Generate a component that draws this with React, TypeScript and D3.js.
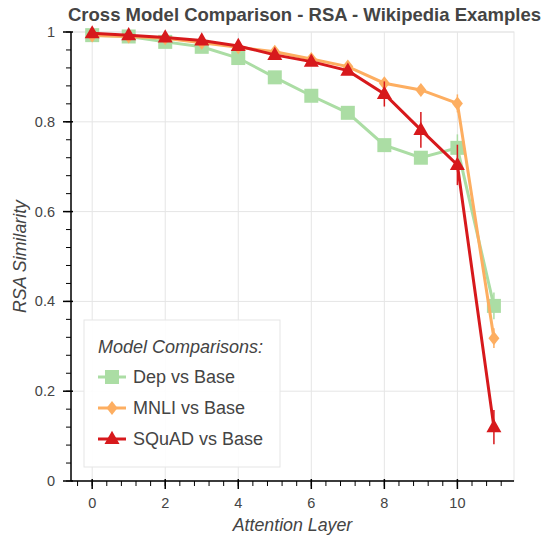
import * as d3 from 'd3';

const layers = [0, 1, 2, 3, 4, 5, 6, 7, 8, 9, 10, 11];
const depVsBase = [0.993, 0.99, 0.978, 0.967, 0.942, 0.899, 0.858, 0.82, 0.748, 0.72, 0.742, 0.39];
const depErr = [0, 0, 0, 0, 0, 0, 0, 0, 0.01, 0.01, 0.03, 0.03];
const mnliVsBase = [0.992, 0.99, 0.986, 0.976, 0.966, 0.956, 0.94, 0.923, 0.886, 0.871, 0.841, 0.318];
const mnliErr = [0, 0, 0, 0, 0, 0, 0, 0, 0.012, 0.01, 0.02, 0.022];
const squadVsBase = [0.997, 0.993, 0.988, 0.981, 0.969, 0.949, 0.934, 0.914, 0.862, 0.782, 0.704, 0.12];
const squadErr = [0, 0, 0, 0, 0, 0, 0, 0, 0.028, 0.04, 0.045, 0.038];
const seriesNames = ['Dep vs Base', 'MNLI vs Base', 'SQuAD vs Base'];
const xTicks = [0, 2, 4, 6, 8, 10];
const yTicks = [0, 0.2, 0.4, 0.6, 0.8, 1];

const FONT = '"Liberation Sans", Arial, Helvetica, sans-serif';
const TEXT = '#444444';

export default function App() {
  const width = 546;
  const height = 537;
  const margin = { top: 32, right: 32, bottom: 56, left: 71 };
  const boundsWidth = width - margin.left - margin.right;
  const boundsHeight = height - margin.top - margin.bottom;

  const xScale = d3.scaleLinear().domain([-0.58, 11.55]).range([0, boundsWidth]);
  const yScale = d3.scaleLinear().domain([0, 1]).range([boundsHeight, 0]);

  const xMinor = d3.range(-0.4, 11.6, 0.4).map((v) => +v.toFixed(2));
  const yMinor = d3.range(0, 1.001, 0.04).map((v) => +v.toFixed(2));

  const tri = (s: number) => {
    const h = s * 0.88;
    return `M0,${-h * 0.62}L${s / 2},${h * 0.38}L${-s / 2},${h * 0.38}Z`;
  };
  const diamond = (w: number, h: number) => `M0,${-h / 2}L${w / 2},0L0,${h / 2}L${-w / 2},0Z`;
  const square = (s: number) => `M${-s / 2},${-s / 2}h${s}v${s}h${-s}Z`;

  const series = [
    { name: seriesNames[0], values: depVsBase, err: depErr, color: '#abdda4', marker: square(14) },
    { name: seriesNames[1], values: mnliVsBase, err: mnliErr, color: '#fdae61', marker: diamond(11, 14) },
    { name: seriesNames[2], values: squadVsBase, err: squadErr, color: '#d7191c', marker: tri(15) },
  ];

  const line = d3
    .line<number>()
    .x((_, i) => xScale(layers[i]))
    .y((d) => yScale(d));

  const legendX = 84 - margin.left;
  const legendY = 320 - margin.top;

  return (
    <svg width={width} height={height} style={{ position: 'absolute', left: 0, top: 0, fontFamily: FONT }}>
      <rect width={width} height={height} fill="white" />
      <text x={68} y={21} fontSize={18.5} fontWeight="bold" fill={TEXT}>
        Cross Model Comparison - RSA - Wikipedia Examples
      </text>
      <g transform={`translate(${margin.left},${margin.top})`}>
        {/* grid */}
        {xTicks.map((t) => (
          <line key={'gx' + t} x1={xScale(t)} x2={xScale(t)} y1={0} y2={boundsHeight} stroke="#e5e5e5" />
        ))}
        {yTicks.map((t) => (
          <line key={'gy' + t} x1={0} x2={boundsWidth} y1={yScale(t)} y2={yScale(t)} stroke="#e5e5e5" />
        ))}
        <rect x={0} y={0} width={boundsWidth} height={boundsHeight} fill="none" stroke="#e5e5e5" />

        {/* series */}
        {series.map((s) => (
          <g key={s.name}>
            <path d={line(s.values) ?? ''} fill="none" stroke={s.color} strokeWidth={3} />
            {s.values.map((v, i) =>
              s.err[i] > 0 ? (
                <line
                  key={'e' + i}
                  x1={xScale(layers[i])}
                  x2={xScale(layers[i])}
                  y1={yScale(v - s.err[i])}
                  y2={yScale(v + s.err[i])}
                  stroke={s.color}
                  strokeWidth={1.5}
                />
              ) : null,
            )}
            {s.values.map((v, i) => (
              <path key={'m' + i} d={s.marker} transform={`translate(${xScale(layers[i])},${yScale(v)})`} fill={s.color} />
            ))}
          </g>
        ))}

        {/* y axis */}
        <line x1={0} x2={0} y1={0} y2={boundsHeight} stroke="black" strokeWidth={1.5} />
        {yMinor.map((t) => (
          <line key={'ym' + t} x1={-5} x2={0} y1={yScale(t)} y2={yScale(t)} stroke="black" />
        ))}
        {yTicks.map((t) => (
          <g key={'yt' + t}>
            <line x1={-8} x2={2} y1={yScale(t)} y2={yScale(t)} stroke="black" strokeWidth={1.5} />
            <text x={-16} y={yScale(t)} dy="0.35em" textAnchor="end" fontSize={14.5} fill={TEXT}>
              {d3.format('~g')(t)}
            </text>
          </g>
        ))}

        {/* x axis */}
        <line x1={0} x2={boundsWidth} y1={boundsHeight} y2={boundsHeight} stroke="black" strokeWidth={1.5} />
        {xMinor.map((t) => (
          <line key={'xm' + t} x1={xScale(t)} x2={xScale(t)} y1={boundsHeight} y2={boundsHeight + 5} stroke="black" />
        ))}
        {xTicks.map((t) => (
          <g key={'xt' + t}>
            <line x1={xScale(t)} x2={xScale(t)} y1={boundsHeight - 2} y2={boundsHeight + 8} stroke="black" strokeWidth={1.5} />
            <text x={xScale(t)} y={boundsHeight + 27} textAnchor="middle" fontSize={14.5} fill={TEXT}>
              {t}
            </text>
          </g>
        ))}

        {/* axis labels */}
        <text x={boundsWidth / 2} y={boundsHeight + 50} textAnchor="middle" fontSize={17.8} fontStyle="italic" fill={TEXT}>
          Attention Layer
        </text>
        <text
          transform={`translate(${-45},${boundsHeight / 2}) rotate(-90)`}
          textAnchor="middle"
          fontSize={17.8}
          fontStyle="italic"
          fill={TEXT}
        >
          RSA Similarity
        </text>

        {/* legend */}
        <g transform={`translate(${legendX},${legendY})`}>
          <rect width={196} height={147} fill="white" fillOpacity={0.9} stroke="#e5e5e5" />
          <text x={14} y={33} fontSize={18} fontStyle="italic" fill={TEXT}>
            Model Comparisons:
          </text>
          {series.map((s, i) => (
            <g key={'lg' + s.name} transform={`translate(0,${57 + i * 31})`}>
              <line x1={14} x2={42} y1={0} y2={0} stroke={s.color} strokeWidth={3} />
              <path d={s.marker} transform="translate(28,0)" fill={s.color} />
              <text x={49} y={0} dy="0.35em" fontSize={18} fill={TEXT}>
                {s.name}
              </text>
            </g>
          ))}
        </g>
      </g>
    </svg>
  );
}
